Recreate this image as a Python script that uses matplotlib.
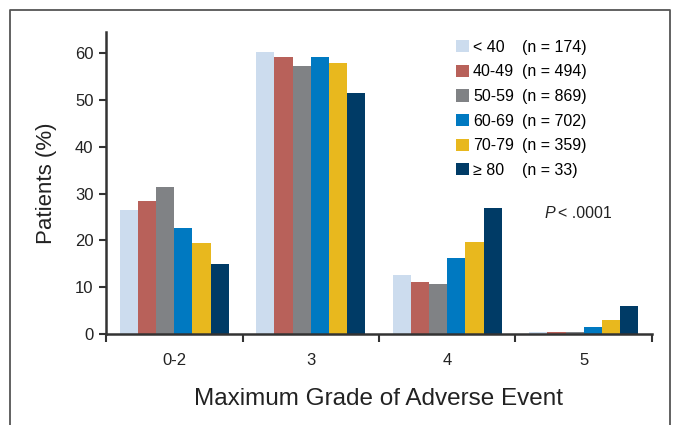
import numpy as np
import matplotlib
matplotlib.use("Agg")
import matplotlib.pyplot as plt
from matplotlib.lines import Line2D

plt.rcParams['font.family'] = ['Liberation Sans', 'DejaVu Sans']

# data
grades = ['0-2', '3', '4', '5']
age_groups = ['< 40', '40-49', '50-59', '60-69', '70-79', '\u2265 80']
n_counts = ['(n = 174)', '(n = 494)', '(n = 869)', '(n = 702)', '(n = 359)', '(n = 33)']
lt40 = [26.4, 60.3, 12.7, 0.4]
a40_49 = [28.5, 59.2, 11.2, 0.4]
a50_59 = [31.3, 57.3, 10.7, 0.4]
a60_69 = [22.7, 59.2, 16.3, 1.6]
a70_79 = [19.5, 57.9, 19.7, 2.9]
ge80 = [15.0, 51.5, 27.0, 6.0]
series = [lt40, a40_49, a50_59, a60_69, a70_79, ge80]
colors = ['#CCDCEE', '#B8615A', '#808285', '#0079C1', '#E8B81E', '#003B66']

fig = plt.figure(figsize=(6.77, 4.25), dpi=100)
ax = fig.add_axes([0.1566, 0.2141, 0.8064, 0.7106])

x = np.arange(len(grades))
w = 0.8 / len(series)
handles = []
for i, vals in enumerate(series):
    b = ax.bar(x - 0.4 + w * (i + 0.5), vals, width=w, color=colors[i], linewidth=0)
    handles.append(b)

ax.set_xlim(-0.5, 3.5)
ax.set_ylim(0, 64.5)
ax.set_yticks([0, 10, 20, 30, 40, 50, 60])
ax.set_xticks(x)
ax.set_xticklabels(grades)
ax.set_xticks(np.arange(-0.5, 4, 1), minor=True)
ax.tick_params(axis='x', which='major', length=0, pad=14, labelsize=12, colors='#222222')
ax.tick_params(axis='x', which='minor', length=6, width=1.5, direction='out', color='#333333')
ax.tick_params(axis='y', length=5, width=1.5, direction='out', labelsize=12, color='#333333',
               labelcolor='#222222', pad=4)
for s in ['top', 'right']:
    ax.spines[s].set_visible(False)
for s in ['left', 'bottom']:
    ax.spines[s].set_linewidth(1.8)
    ax.spines[s].set_color('#333333')

ax.set_ylabel('Patients (%)', fontsize=16, color='#222222', labelpad=13)
ax.set_xlabel('Maximum Grade of Adverse Event', fontsize=17.5, color='#222222', labelpad=14)

# legend: age labels and n counts as two aligned columns
leg1 = ax.legend(handles, age_groups, loc='upper left', bbox_to_anchor=(0.630, 0.995),
                 frameon=False, fontsize=11.5, handlelength=0.8, handleheight=0.8,
                 handletextpad=0.25, labelspacing=0.6, borderaxespad=0)
ax.add_artist(leg1)
blank = [Line2D([], [], linestyle='none') for _ in n_counts]
ax.legend(blank, n_counts, loc='upper left', bbox_to_anchor=(0.751, 0.995),
          frameon=False, fontsize=11.5, handlelength=0, handletextpad=0,
          labelspacing=0.6, borderaxespad=0)

ax.text(0.804, 0.40, 'P', transform=ax.transAxes, fontsize=11.5, fontstyle='italic',
        color='#222222', ha='left', va='center')
ax.text(0.828, 0.40, '< .0001', transform=ax.transAxes, fontsize=11.5,
        color='#222222', ha='left', va='center')

# outer frame (open at the bottom)
fig.add_artist(Line2D([0.015, 0.015, 0.99, 0.99], [-0.1, 0.977, 0.977, -0.1],
                      transform=fig.transFigure, color='#555555', linewidth=1.3))

fig.savefig('out.png', dpi=100)
